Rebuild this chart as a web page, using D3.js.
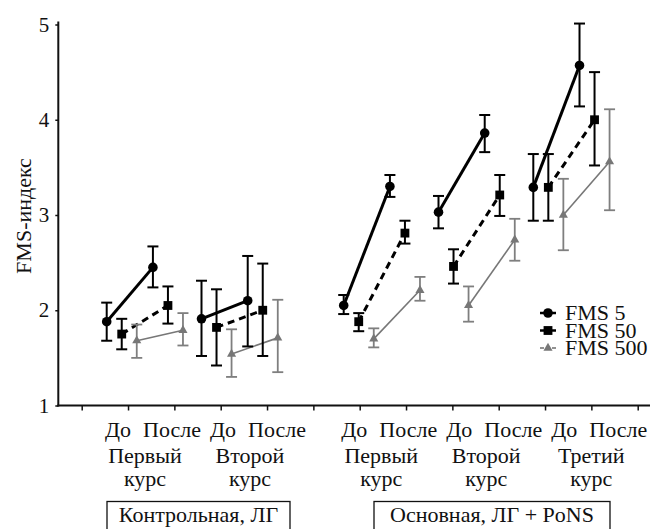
<!DOCTYPE html>
<html>
<head>
<meta charset="utf-8">
<script src="https://cdn.jsdelivr.net/npm/d3@7"></script>
<style>
  body { margin: 0; background: #fff; }
  svg { display: block; }
</style>
</head>
<body>
<div id="chart"></div>
<script>
// ---- data ----
const courses = ["Первый", "Второй", "Первый", "Второй", "Третий"];
const phases = ["До", "После"];
const arms = ["Контрольная, ЛГ", "Основная, ЛГ + PoNS"];
const seriesNames = ["FMS 5", "FMS 50", "FMS 500"];
const yTicks = [1, 2, 3, 4, 5];

// values by course x phase (до, после)
const fms5Mean = [1.88, 2.45, 1.91, 2.10, 2.05, 3.30, 3.03, 3.86, 3.29, 4.57];
const fms5Lo   = [1.68, 2.24, 1.52, 1.62, 1.96, 3.19, 2.86, 3.66, 2.94, 4.14];
const fms5Hi   = [2.08, 2.67, 2.31, 2.57, 2.16, 3.42, 3.20, 4.05, 3.64, 5.01];

const fms50Mean = [1.75, 2.05, 1.82, 2.00, 1.88, 2.81, 2.46, 3.21, 3.29, 4.00];
const fms50Lo   = [1.59, 1.86, 1.42, 1.52, 1.78, 2.70, 2.28, 2.99, 2.94, 3.52];
const fms50Hi   = [1.91, 2.25, 2.22, 2.49, 1.97, 2.94, 2.64, 3.42, 3.64, 4.50];

const fms500Mean = [1.68, 1.79, 1.54, 1.71, 1.70, 2.21, 2.05, 2.74, 3.00, 3.56];
const fms500Lo   = [1.50, 1.63, 1.30, 1.35, 1.61, 2.10, 1.88, 2.52, 2.63, 3.05];
const fms500Hi   = [1.85, 1.97, 1.80, 2.11, 1.81, 2.35, 2.25, 2.96, 3.38, 4.11];

// ---- setup ----
const width = 650, height = 529;
const FONT = "Liberation Serif";
const INK = "#111";

const svg = d3.select("#chart").append("svg")
    .attr("width", width).attr("height", height)
    .attr("font-family", FONT);

const GRAY = "#777";
const styles = [
    {color: "#000", width: 3, dash: null, bar: "#000", barW: 2},
    {color: "#000", width: 3, dash: "7,5", bar: "#000", barW: 2},
    {color: GRAY, width: 1.6, dash: null, bar: "#7f7f7f", barW: 1.8}
];

const means = [fms5Mean, fms50Mean, fms500Mean];
const los = [fms5Lo, fms50Lo, fms500Lo];
const his = [fms5Hi, fms50Hi, fms500Hi];

// slot of each course along the axis (control arm, then a gap, then main arm)
const dataSlots = [0, 2, 5, 7, 9];
const labelSlots = [0, 1, 2.25, 3.25, 4.25];

const xData = d3.scaleLinear().domain([0, 9]).range([106.7, 533.3]);
const xLabel = d3.scaleLinear().domain([0, 1]).range([145, 250]);
const xTickScale = d3.scaleLinear().domain([0, 12]).range([81.7, 637.7]);
const yScale = d3.scaleLinear().domain([1, 5]).range([405.5, 24.5]);

const seriesOffset = 0.317;  // units between series within a phase
const phaseOffset = 0.975;

const rows = [];
seriesNames.forEach((s, si) => {
    courses.forEach((c, ci) => {
        phases.forEach((p, pi) => {
            const k = ci * 2 + pi;
            rows.push({
                series: si, course: ci, phase: pi,
                x: xData(dataSlots[ci] + pi * phaseOffset + si * seriesOffset),
                mean: means[si][k], lo: los[si][k], hi: his[si][k]
            });
        });
    });
});

/******** AXES ********/
const axisX = 58.3;
svg.append("line")
    .attr("x1", axisX).attr("x2", axisX)
    .attr("y1", 21.5).attr("y2", yScale(1) + 1)
    .attr("stroke", INK).attr("stroke-width", 2);

svg.append("line")
    .attr("x1", axisX - 1).attr("x2", width)
    .attr("y1", yScale(1)).attr("y2", yScale(1))
    .attr("stroke", INK).attr("stroke-width", 2);

svg.append("g")
    .attr("transform", `translate(${axisX},0)`)
    .call(d3.axisLeft(yScale).tickValues(yTicks).tickSize(3).tickPadding(6).tickFormat(d3.format("d")))
    .attr("font-family", FONT)
    .call(g => g.select(".domain").remove())
    .call(g => g.selectAll("line").attr("stroke", INK).attr("stroke-width", 1.5))
    .call(g => g.selectAll("text")
        .attr("font-family", FONT)
        .attr("font-size", 21).attr("fill", INK));

svg.append("g")
    .attr("transform", `translate(0,${yScale(1)})`)
    .call(d3.axisBottom(xTickScale).tickValues(d3.range(13)).tickSize(5).tickFormat(""))
    .call(g => g.select(".domain").remove())
    .call(g => g.selectAll("line").attr("stroke", INK).attr("stroke-width", 1.5));

svg.append("text")
    .attr("transform", `translate(31,216) rotate(-90)`)
    .attr("text-anchor", "middle")
    .attr("font-family", FONT)
    .attr("font-size", 22)
    .attr("fill", INK)
    .text("FMS-индекс");

/******** LINES ********/
const plot = svg.append("g");

seriesNames.forEach((s, si) => {
    courses.forEach((c, ci) => {
        const pts = rows.filter(d => d.series === si && d.course === ci);
        plot.append("line")
            .attr("x1", pts[0].x).attr("y1", yScale(pts[0].mean))
            .attr("x2", pts[1].x).attr("y2", yScale(pts[1].mean))
            .attr("stroke", styles[si].color)
            .attr("stroke-width", styles[si].width)
            .attr("stroke-dasharray", styles[si].dash);
    });
});

/******** ERROR BARS ********/
const bars = plot.selectAll(".err")
    .data(rows)
    .enter().append("g")
    .attr("class", "err")
    .attr("stroke", d => styles[d.series].bar)
    .attr("stroke-width", d => styles[d.series].barW);

bars.append("line")
    .attr("x1", d => d.x).attr("x2", d => d.x)
    .attr("y1", d => yScale(d.hi)).attr("y2", d => yScale(d.lo));
bars.append("line")
    .attr("x1", d => d.x - 5.5).attr("x2", d => d.x + 5.5)
    .attr("y1", d => yScale(d.hi)).attr("y2", d => yScale(d.hi));
bars.append("line")
    .attr("x1", d => d.x - 5.5).attr("x2", d => d.x + 5.5)
    .attr("y1", d => yScale(d.lo)).attr("y2", d => yScale(d.lo));

/******** MARKERS ********/
const symbols = [
    d3.symbol().type(d3.symbolCircle).size(72),
    d3.symbol().type(d3.symbolSquare).size(78),
    d3.symbol().type(d3.symbolTriangle).size(36)
];

plot.selectAll(".pt")
    .data(rows)
    .enter().append("path")
    .attr("class", "pt")
    .attr("transform", d => `translate(${d.x},${yScale(d.mean)})`)
    .attr("d", d => symbols[d.series]())
    .attr("fill", d => styles[d.series].color);

/******** LEGEND ********/
const legend = svg.append("g").attr("transform", "translate(548,313)");
seriesNames.forEach((s, si) => {
    const row = legend.append("g").attr("transform", `translate(0,${si * 17.5})`);
    [[-8, -4], [4, 8]].forEach(seg => {
        row.append("line")
            .attr("x1", seg[0]).attr("x2", seg[1])
            .attr("stroke", styles[si].color)
            .attr("stroke-width", si === 2 ? 1.6 : 2.5);
    });
    row.append("path")
        .attr("d", symbols[si]())
        .attr("fill", styles[si].color);
    row.append("text")
        .attr("x", 17).attr("y", 7)
        .attr("font-family", FONT)
        .attr("font-size", 22)
        .attr("fill", INK)
        .text(s);
});

/******** X LABELS ********/
const labels = svg.append("g")
    .attr("fill", INK).attr("font-family", FONT)
    .attr("font-size", 22).attr("text-anchor", "middle");

courses.forEach((c, ci) => {
    const cx = xLabel(labelSlots[ci]);
    phases.forEach((p, pi) => {
        labels.append("text")
            .attr("x", cx + (pi === 0 ? -27 : 27))
            .attr("y", 437)
            .text(p);
    });
    labels.append("text").attr("x", cx).attr("y", 463).text(c);
    labels.append("text").attr("x", cx).attr("y", 486).text("курс");
});

const armBoxes = [[107, 290], [374, 610]];
arms.forEach((a, ai) => {
    const [x0, x1] = armBoxes[ai];
    svg.append("rect")
        .attr("x", x0).attr("y", 501.5)
        .attr("width", x1 - x0).attr("height", 40)
        .attr("fill", "none").attr("stroke", INK).attr("stroke-width", 1.3);
    svg.append("text")
        .attr("x", (x0 + x1) / 2).attr("y", 522)
        .attr("text-anchor", "middle")
        .attr("font-family", FONT)
        .attr("font-size", 22)
        .attr("fill", INK)
        .text(a);
});
</script>
</body>
</html>
